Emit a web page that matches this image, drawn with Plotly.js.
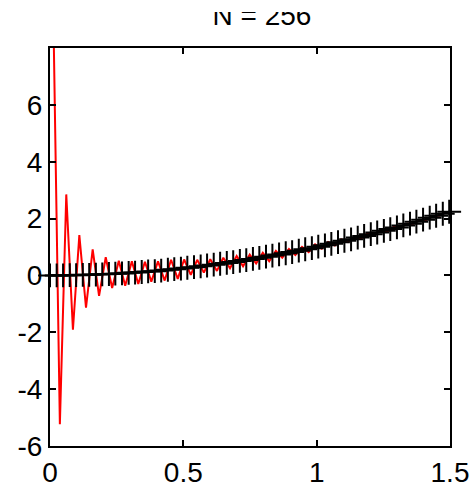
<!DOCTYPE html>
<html>
<head>
<meta charset="utf-8">
<script src="https://cdn.plot.ly/plotly-3.0.1.min.js"></script>
<style>
  html, body { margin: 0; padding: 0; background: #fff; }
  #wrap { position: relative; width: 472px; height: 486px; overflow: hidden; }
  #plot { width: 472px; height: 486px; }
  #cut { position: absolute; left: 0; top: 0; width: 472px; height: 12px; background: #fff; z-index: 10; }
</style>
</head>
<body>
<div id="wrap"><div id="plot"></div><div id="cut"></div></div>
<script>
// Exact curve sample points (black '+' markers)
const exactX = [0.000,0.025,0.049,0.074,0.098,0.123,0.147,0.172,0.196,0.221,
  0.245,0.270,0.295,0.319,0.344,0.368,0.393,0.417,0.442,0.466,
  0.491,0.515,0.540,0.565,0.589,0.614,0.638,0.663,0.687,0.712,
  0.736,0.761,0.785,0.810,0.834,0.859,0.884,0.908,0.933,0.957,
  0.982,1.006,1.031,1.055,1.080,1.104,1.129,1.154,1.178,1.203,
  1.227,1.252,1.276,1.301,1.325,1.350,1.374,1.399,1.424,1.448,
  1.473,1.497];
const exactY = [0.00,0.00,0.00,0.01,0.01,0.02,0.02,0.03,0.04,0.05,
  0.06,0.07,0.09,0.10,0.12,0.14,0.15,0.17,0.20,0.22,
  0.24,0.27,0.29,0.32,0.35,0.38,0.41,0.44,0.47,0.51,
  0.54,0.58,0.62,0.66,0.70,0.74,0.78,0.82,0.87,0.92,
  0.96,1.01,1.06,1.11,1.17,1.22,1.27,1.33,1.39,1.45,
  1.51,1.57,1.63,1.69,1.76,1.82,1.89,1.96,2.03,2.10,
  2.17,2.24];

// Numerical approximation (red line)
const approxX = [0.012,0.037,0.061,0.086,0.110,0.135,0.160,0.184,0.209,0.233,
  0.258,0.282,0.307,0.331,0.356,0.380,0.405,0.430,0.454,0.479,
  0.503,0.528,0.552,0.577,0.601,0.626,0.650,0.675,0.700,0.724,
  0.749,0.773,0.798,0.822,0.847,0.871,0.896,0.920,0.945,0.970,
  0.994,1.019,1.043,1.068,1.092,1.117,1.141,1.166,1.190,1.215,
  1.240,1.264,1.289,1.313,1.338,1.362,1.387,1.411,1.436,1.460,
  1.485];
const approxY = [9.50,-5.23,2.85,-1.91,1.42,-1.13,0.92,-0.72,0.64,-0.44,
  0.52,-0.36,0.50,-0.30,0.48,-0.22,0.50,-0.18,0.55,-0.12,
  0.56,0.02,0.55,0.10,0.57,0.16,0.62,0.25,0.68,0.32,
  0.73,0.42,0.80,0.50,0.86,0.62,0.93,0.72,1.00,0.82,
  1.09,0.94,1.18,1.05,1.27,1.17,1.36,1.29,1.47,1.42,
  1.58,1.55,1.70,1.68,1.82,1.82,1.95,1.96,2.09,2.11,
  2.23];

const xTicks = [0, 0.5, 1, 1.5];
const xTickText = ['0', '0.5', '1', '1.5'];
const yTicks = [-6, -4, -2, 0, 2, 4, 6];
const yTickText = ['-6', '-4', '-2', '0', '2', '4', '6'];
const titleText = 'N = 256';

const font = 'Liberation Sans, Arial, Helvetica, sans-serif';

const traces = [
  {
    x: approxX, y: approxY, type: 'scatter', mode: 'lines',
    line: { color: '#ff0000', width: 2 },
    cliponaxis: true, hoverinfo: 'skip'
  },
  {
    x: exactX, y: exactY, type: 'scatter', mode: 'lines+markers',
    line: { color: '#000000', width: 2 },
    marker: { symbol: 'cross-thin', size: 17, color: '#000000', line: { color: '#000000', width: 2 } },
    cliponaxis: false, hoverinfo: 'skip'
  }
];

const axisCommon = {
  showline: true, linecolor: '#000', linewidth: 2, mirror: 'ticks',
  ticks: 'inside', ticklen: 6, tickwidth: 2, tickcolor: '#000',
  showgrid: false, zeroline: false,
  tickfont: { family: font, size: 28, color: '#000' }
};

const layout = {
  width: 472, height: 486,
  margin: { l: 50, r: 22, t: 48, b: 40 },
  paper_bgcolor: '#fff', plot_bgcolor: '#fff',
  showlegend: false,
  title: {
    text: titleText, font: { family: font, size: 28, color: '#000' },
    x: 0.53, xanchor: 'center', xref: 'paper',
    y: 0.969, yanchor: 'middle', yref: 'container'
  },
  xaxis: Object.assign({}, axisCommon, {
    range: [0, 1.5], tickvals: xTicks, ticktext: xTickText
  }),
  yaxis: Object.assign({}, axisCommon, {
    range: [-6, 8], tickvals: yTicks, ticktext: yTickText
  })
};

Plotly.newPlot('plot', traces, layout, { displayModeBar: false, staticPlot: true });
</script>
</body>
</html>
